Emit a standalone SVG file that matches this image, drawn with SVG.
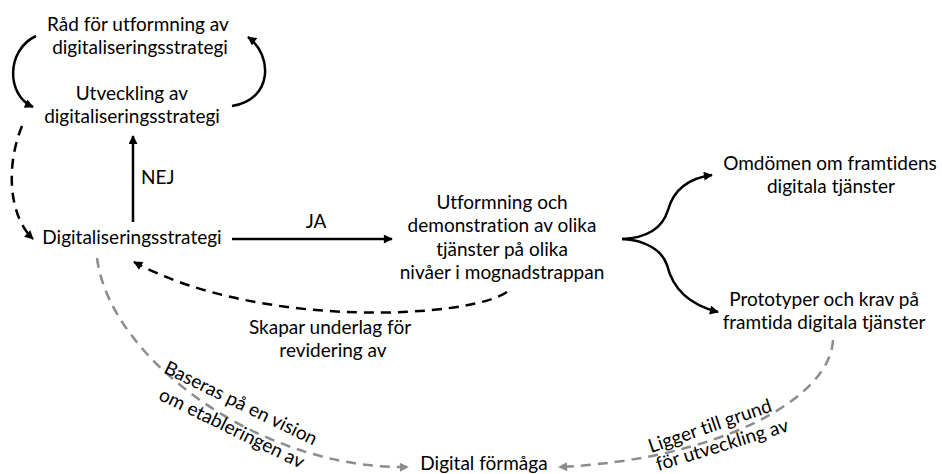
<svg xmlns="http://www.w3.org/2000/svg" width="942" height="474" viewBox="0 0 942 474">
<defs>
<style>
text{font-family:Lato,"Liberation Sans",sans-serif;font-size:19px;fill:#000;text-anchor:middle;font-variant-ligatures:none}
.l{fill:none;stroke:#000;stroke-width:2.5}
.d{stroke-dasharray:10 7}
.g{fill:none;stroke:#8c8c8c;stroke-width:2.5;stroke-dasharray:10 7}
</style>
<marker id="ab" viewBox="0 0 10 10" refX="9" refY="5" markerWidth="10" markerHeight="9" markerUnits="userSpaceOnUse" orient="auto"><path d="M0,0 L10,5 L0,10 Z" fill="#000"/></marker>
<marker id="ag" viewBox="0 0 10 10" refX="9" refY="5" markerWidth="10" markerHeight="9" markerUnits="userSpaceOnUse" orient="auto"><path d="M0,0 L10,5 L0,10 Z" fill="#8c8c8c"/></marker>
</defs>
<g id="connectors">
<path class="l" d="M36,36 C6,50 6,95 33,107" marker-end="url(#ab)"/>
<path class="l" d="M232,106 C273,100 273,55 248,37" marker-end="url(#ab)"/>
<path class="l d" d="M22,126 C6,165 8,215 33,239" marker-end="url(#ab)"/>
<path class="l" d="M133,222 L133,136" marker-end="url(#ab)"/>
<path class="l" d="M232,239 L392,239" marker-end="url(#ab)"/>
<path class="l" d="M622,239 C645,238 662,230 668,210 C674,188 690,178 712,175" marker-end="url(#ab)"/>
<path class="l" d="M622,239 C645,240 662,250 667,265 C673,290 690,305 718,312" marker-end="url(#ab)"/>
<path class="l d" d="M507,292 C470,318 260,330 134,262" marker-end="url(#ab)"/>
<path class="g" d="M97,258 C110,360 262,470 408,467" marker-end="url(#ag)"/>
<path class="g" d="M833,340 C830,400 715,460 559,467" marker-end="url(#ag)"/>
<text x="141" y="184" style="text-anchor:start">NEJ</text>
<text x="316" y="228">JA</text>
<text x="330" y="334">Skapar underlag för</text>
<text x="333" y="357">revidering av</text>
<text transform="translate(238,409) rotate(26)">Baseras på en vision</text>
<text transform="translate(229,434) rotate(26)">om etableringen av</text>
<text transform="translate(712,432) rotate(-19)">Ligger till grund</text>
<text transform="translate(724,451) rotate(-17)">för utveckling av</text>
</g>
<g id="rad"><text x="138" y="31">Råd för utformning av</text><text x="140" y="54">digitaliseringsstrategi</text></g>
<g id="utveckling"><text x="132" y="100">Utveckling av</text><text x="132" y="123">digitaliseringsstrategi</text></g>
<g id="digitaliseringsstrategi"><text x="132" y="244">Digitaliseringsstrategi</text></g>
<g id="utformning"><text x="502" y="209">Utformning och</text><text x="502" y="232">demonstration av olika</text><text x="502" y="256">tjänster på olika</text><text x="502" y="279">nivåer i mognadstrappan</text></g>
<g id="omdomen"><text x="830" y="170">Omdömen om framtidens</text><text x="831" y="193">digitala tjänster</text></g>
<g id="prototyper"><text x="824" y="306">Prototyper och krav på</text><text x="824" y="329">framtida digitala tjänster</text></g>
<g id="formaga"><text x="484" y="470">Digital förmåga</text></g>
</svg>
